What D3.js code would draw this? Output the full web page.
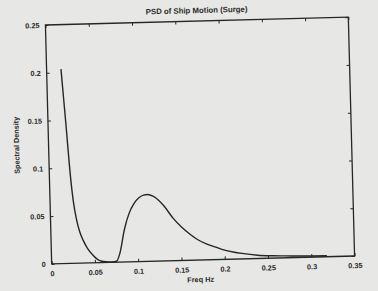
<!DOCTYPE html>
<html><head><meta charset="utf-8">
<script src="https://cdnjs.cloudflare.com/ajax/libs/d3/7.8.5/d3.min.js"></script>
<style>
html,body{margin:0;padding:0;background:#e7e7e5;}
svg{display:block;}
text{font-family:"Liberation Sans",Arial,sans-serif;fill:#2a2a2a;}
</style></head>
<body>
<svg id="c" width="378" height="291"></svg>
<script>
(function(){
const titleText = "PSD of Ship Motion (Surge)";
const xLabel = "Freq Hz";
const yLabel = "Spectral Density";
const xTicks = [0, 0.05, 0.1, 0.15, 0.2, 0.25, 0.3, 0.35];
const yTicks = [0, 0.05, 0.1, 0.15, 0.2, 0.25];
const xTickLabels = ["0", "0.05", "0.1", "0.15", "0.2", "0.25", "0.3", "0.35"];
const yTickLabels = ["0", "0.05", "0.1", "0.15", "0.2", "0.25"];
const freq = [0.0166, 0.0205, 0.0245, 0.027, 0.030, 0.033, 0.037, 0.042, 0.048, 0.055, 0.063, 0.070, 0.075, 0.079, 0.085, 0.091, 0.097, 0.103, 0.108, 0.113, 0.119, 0.125, 0.131, 0.142, 0.151, 0.161, 0.170, 0.180, 0.190, 0.199, 0.210, 0.220, 0.238, 0.255, 0.270, 0.285, 0.300, 0.318];
const density = [0.2035, 0.148, 0.089, 0.064, 0.046, 0.034, 0.024, 0.015, 0.008, 0.0025, 0.0008, 0.0004, 0.001, 0.009, 0.034, 0.051, 0.061, 0.067, 0.0695, 0.0700, 0.068, 0.064, 0.058, 0.044, 0.035, 0.027, 0.021, 0.0165, 0.013, 0.010, 0.0075, 0.0058, 0.0035, 0.0025, 0.002, 0.0015, 0.0012, 0.001];

const svg = d3.select("#c");
const mL = 48.5, mR = 351.5, mT = 21, mB = 260;
const cx = (mL + mR) / 2, cy = (mT + mB) / 2;
const root = svg.append("g").attr("transform", `rotate(-1.5 ${cx} ${cy})`);

const x = d3.scaleLinear().domain([0, 0.35]).range([mL, mR]);
const y = d3.scaleLinear().domain([0, 0.25]).range([mB, mT]);

const ink = "#262626";
const fs = 7.3;

root.append("rect").attr("x", mL).attr("y", mT).attr("width", mR - mL).attr("height", mB - mT)
  .attr("fill", "none").attr("stroke", ink).attr("stroke-width", 1.3);

function styleAxis(g, showLabels) {
  g.select(".domain").remove();
  g.selectAll(".tick line").attr("stroke", ink).attr("stroke-width", 1);
  g.selectAll(".tick text").attr("font-size", fs).attr("font-weight", "bold").attr("fill", "#2e2e2e")
    .style("display", showLabels ? null : "none");
}

root.append("g").attr("transform", `translate(0,${mB})`)
  .call(d3.axisBottom(x).tickValues(xTicks).tickFormat((d, i) => xTickLabels[i]).tickSizeInner(-3).tickSizeOuter(0).tickPadding(7))
  .call(g => styleAxis(g, true));
root.append("g").attr("transform", `translate(0,${mT})`)
  .call(d3.axisTop(x).tickValues(xTicks).tickSizeInner(-3).tickSizeOuter(0))
  .call(g => styleAxis(g, false));
root.append("g").attr("transform", `translate(${mL},0)`)
  .call(d3.axisLeft(y).tickValues(yTicks).tickFormat((d, i) => yTickLabels[i]).tickSizeInner(-3).tickSizeOuter(0).tickPadding(6))
  .call(g => styleAxis(g, true));
root.append("g").attr("transform", `translate(${mR},0)`)
  .call(d3.axisRight(y).tickValues(yTicks).tickSizeInner(-3).tickSizeOuter(0))
  .call(g => styleAxis(g, false));

const pts = freq.map((f, i) => [f, density[i]]);
root.append("path").datum(pts)
  .attr("fill", "none").attr("stroke", ink).attr("stroke-width", 1.4)
  .attr("d", d3.line().x(d => x(d[0])).y(d => y(d[1])).curve(d3.curveMonotoneX));

root.append("text").attr("x", cx).attr("y", 13).attr("text-anchor", "middle")
  .attr("font-size", 7.8).attr("font-weight", "bold").text(titleText);
root.append("text").attr("x", cx - 3).attr("y", 282).attr("text-anchor", "middle")
  .attr("font-size", 7.3).attr("font-weight", "bold").text(xLabel);
root.append("text").attr("transform", `translate(19,${cy}) rotate(-90)`).attr("text-anchor", "middle")
  .attr("font-size", 7.3).attr("font-weight", "bold").text(yLabel);
})();
</script>
</body></html>
